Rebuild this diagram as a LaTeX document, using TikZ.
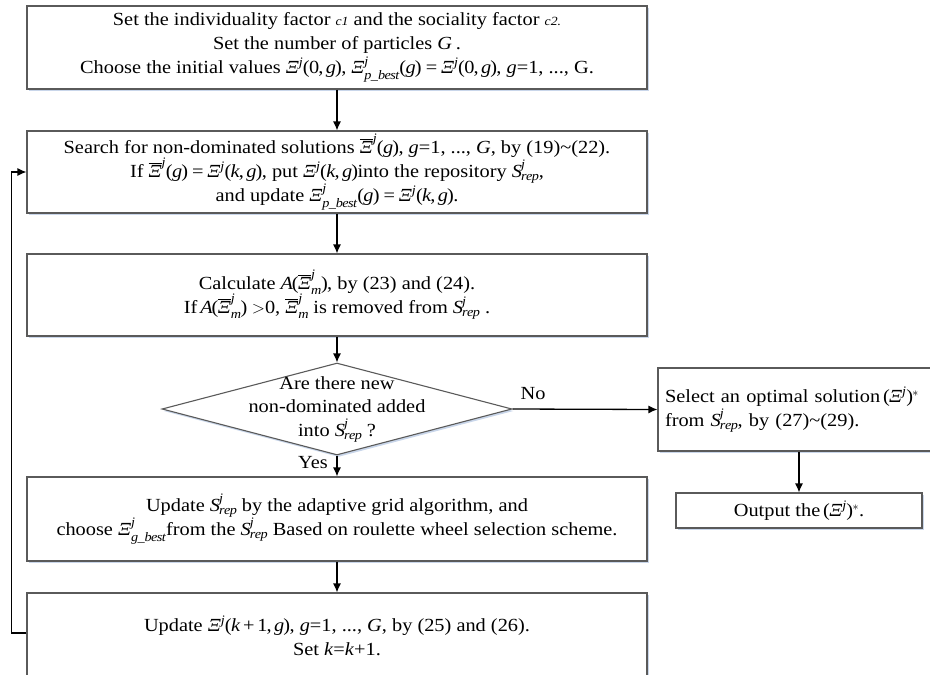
\documentclass[tikz,border=0pt]{standalone}
\usepackage{amsmath}
\usepackage{fontspec}
\setmainfont[FakeStretch=1.1]{Liberation Serif}
\usetikzlibrary{arrows.meta,shapes.geometric,shadows}
\newcommand{\mv}[1]{\mathit{#1}}
\newcommand{\XX}{\text{\itshape Ξ}}
\newcommand{\XB}{\overline{\XX}}
\newcommand{\Srep}{\mv{S}^{\mv{j}}_{\mv{rep}}}
\newcommand{\smallc}[1]{{\fontsize{12.5}{24}\selectfont\itshape #1}}
\definecolor{boxline}{HTML}{5A5A5A}
\definecolor{shadowc}{HTML}{C9D6EA}
\begin{document}
\mathcode`(="4028 \mathcode`)="5029 \mathcode`,="602C \mathcode`=="303D \mathcode`+="202B
\mathcode`0="0030 \mathcode`1="0031
\begin{tikzpicture}[x=1pt,y=-1pt,
  every node/.style={font=\fontsize{18.5}{24}\selectfont},
  stepbox/.style={draw=boxline, line width=1.1pt, fill=white, rectangle, align=center, inner sep=0pt,
    drop shadow={shadow xshift=1.5pt, shadow yshift=-2pt, opacity=1, fill=shadowc}},
  arr/.style={draw=black, line width=1.3pt, -{Latex[length=9pt,width=8pt]}},
  lbl/.style={inner sep=0pt}
]
\useasboundingbox (0,0) rectangle (930,675);
\clip (0,0) rectangle (930,675);

\node[stepbox, minimum width=620, minimum height=83] (b1) at (337,47.5)
 {Set the individuality factor \smallc{c1} and the sociality factor \smallc{c2.}\\
  Set the number of particles $\mv{G}$ .\\
  Choose the initial values $\XX^{\mv{j}}(0,\mv{g})$,\ $\XX^{\mv{j}}_{\mv{p\_best}}(\mv{g})=\XX^{\mv{j}}(0,\mv{g})$, \textit{g}=1, ..., G.};

\node[stepbox, minimum width=620, minimum height=82] (b2) at (337,172)
 {Search for non-dominated solutions $\XB^{\mv{j}}(\mv{g})$, \textit{g}=1, ..., \textit{G}, by (19)\textasciitilde(22).\\
  If $\XB^{\mv{j}}(\mv{g})=\XX^{\mv{j}}(\mv{k},\mv{g})$, put\ $\XX^{\mv{j}}(\mv{k},\mv{g})$into the repository $\Srep$,\\
  and update $\XX^{\mv{j}}_{\mv{p\_best}}(\mv{g})=\XX^{\mv{j}}(\mv{k},\mv{g})$.};

\node[stepbox, minimum width=620, minimum height=82] (b3) at (337,295)
 {Calculate\ $\mv{A}(\XB^{\mv{j}}_{\mv{m}})$, by (23) and (24).\\
  If$\,\mv{A}(\XB^{\mv{j}}_{\mv{m}})$ $>$0,\ $\XB^{\mv{j}}_{\mv{m}}$ is removed from $\Srep$ .};

\node[diamond, draw=boxline, line width=1.1pt, fill=white, minimum width=350, minimum height=92, inner sep=0pt, aspect=3.8,
  drop shadow={shadow xshift=1.5pt, shadow yshift=-2pt, opacity=1, fill=shadowc}] (dia) at (337,409) {};
\node[lbl, align=center, font=\fontsize{18.5}{23.5}\selectfont] (diat) at (337,409)
 {Are there new\\ non-dominated added\\ into $\Srep$ ?};

\node[stepbox, minimum width=282, minimum height=83, text width=268, align=left, inner xsep=7pt] (sel) at (799,409.5)
 {Select an optimal solution$\,(\XX^{\mv{j}})^{*}$\\ from $\Srep$, by (27)\textasciitilde(29).};

\node[stepbox, minimum width=246, minimum height=35] (out) at (799,510.5)
 {Output the$\,(\XX^{\mv{j}})^{*}$.};

\node[stepbox, minimum width=620, minimum height=84] (b5) at (337,519)
 {Update $\Srep$ by the adaptive grid algorithm, and\\
  choose $\XX^{\mv{j}}_{\mv{g\_best}}$from the $\Srep$ Based on roulette wheel selection scheme.};

\node[stepbox, minimum width=620, minimum height=86] (b6) at (337,636)
 {Update $\XX^{\mv{j}}(\mv{k}+1,\mv{g})$, \textit{g}=1, ..., \textit{G}, by (25) and (26).\\
  Set \textit{k}=\textit{k}+1.};

\node[lbl] (no) at (533,394) {No};
\node[lbl] (yes) at (313,463) {Yes};

\draw[arr] (b1.south) -- (b2.north);
\draw[arr] (b2.south) -- (b3.north);
\draw[arr] (b3.south) -- (dia.north);
\draw[arr] (dia.south) -- (b5.north);
\draw[arr] (dia.east) -- (sel.west);
\draw[arr] (sel.south) -- (out.north);
\draw[arr] (b5.south) -- (b6.north);
\draw[arr] ([yshift=3pt]b6.west) -- ++(-15,0) |- (b2.west);
\end{tikzpicture}
\end{document}
